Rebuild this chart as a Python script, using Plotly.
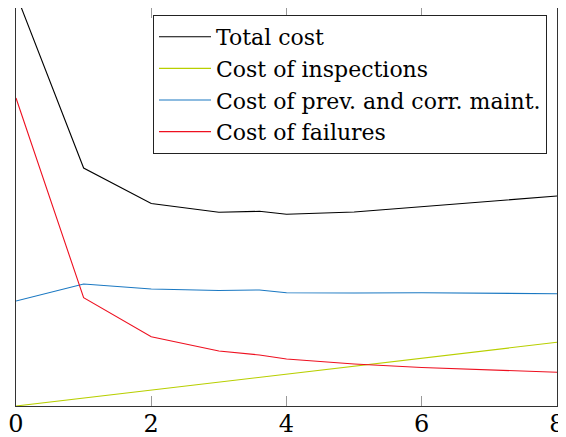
import plotly.graph_objects as go

x_vals = [0, 1, 2, 3, 3.6, 4, 5, 6, 8]
total_cost = [412, 238, 202.5, 193.7, 194.7, 191.7, 194, 199.3, 210]
inspection_cost = [0, 8.0, 15.9, 23.9, 28.7, 31.9, 39.8, 47.8, 63.7]
maint_cost = [105, 122, 117, 115.5, 116, 113.3, 113, 113.2, 112.3]
failure_cost = [308, 108.3, 69.3, 55, 51, 47, 42, 38.5, 33.7]
tick_vals = [0, 2, 4, 6, 8]

names = ["Total cost", "Cost of inspections", "Cost of prev. and corr. maint.", "Cost of failures"]
colors = ["#000000", "#b8cf00", "#1a78c2", "#ee1020"]
series = [total_cost, inspection_cost, maint_cost, failure_cost]

fig = go.Figure()
for n, c, s in zip(names, colors, series):
    fig.add_trace(go.Scatter(x=x_vals, y=s, mode="lines", name=n,
                             line=dict(color=c, width=1.1)))

font = "DejaVu Serif, serif"
# page body has an 8px default margin: plot area placed so it lands on the reference frame
fig.update_layout(
    width=566, height=437,
    margin=dict(l=8, r=17, t=0, b=39, autoexpand=False),
    paper_bgcolor="white", plot_bgcolor="white",
    font=dict(family=font, size=26, color="black"),
    showlegend=True,
    legend=dict(x=1 - 10 / 541, xanchor="right", y=(398 - 7) / 398, yanchor="top",
                bgcolor="white", bordercolor="#222", borderwidth=1,
                font=dict(family=font, size=22), tracegroupgap=0,
                itemwidth=52),
)
fig.update_xaxes(range=[0, 8], tickvals=tick_vals, ticktext=[str(t) for t in tick_vals],
                 ticks="inside", ticklen=10, tickcolor="#999999", tickwidth=1,
                 showline=True, linecolor="#333", linewidth=1.2, mirror="ticks",
                 showgrid=False, zeroline=False, automargin=False,
                 ticklabelstandoff=-4,
                 tickfont=dict(family=font, size=24))
fig.update_yaxes(range=[0, 398], showticklabels=False, ticks="",
                 showline=True, linecolor="#333", linewidth=1.2, mirror=True,
                 showgrid=False, zeroline=False, automargin=False)

fig.write_html("out.html")
